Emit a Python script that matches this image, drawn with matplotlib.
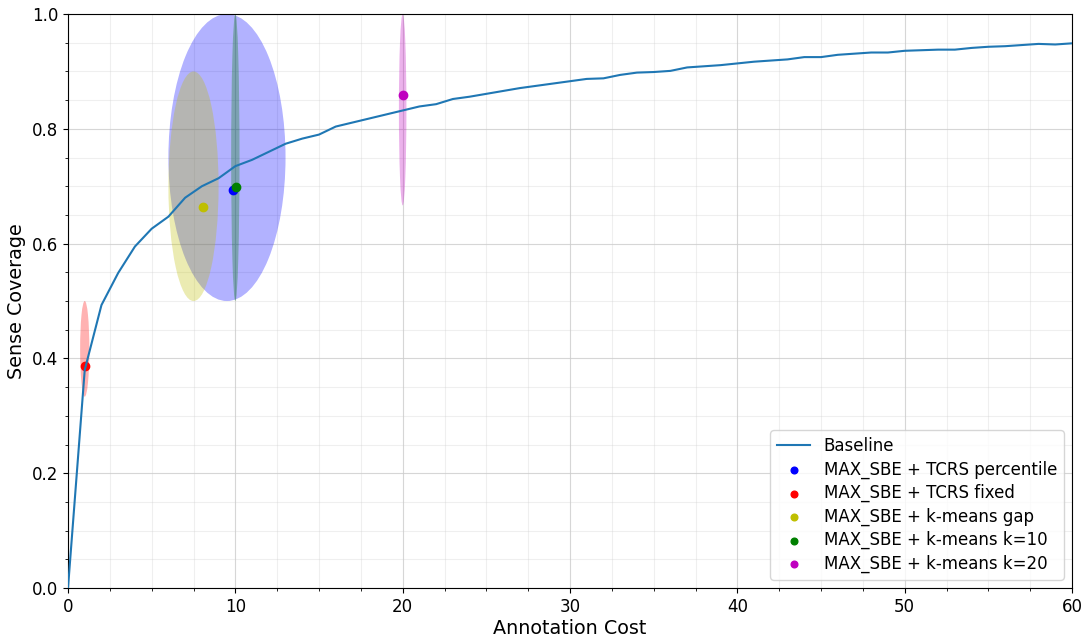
import matplotlib
matplotlib.use("Agg")
import matplotlib.pyplot as plt
from matplotlib.patches import Ellipse
from matplotlib.ticker import MultipleLocator

# Baseline curve
baseline_x = list(range(0, 61))
baseline_y = [0.0, 0.38, 0.493, 0.549, 0.595, 0.626, 0.647, 0.68, 0.70, 0.714,
              0.735, 0.746, 0.760, 0.774, 0.783, 0.790, 0.804, 0.811, 0.818, 0.825,
              0.832, 0.839, 0.843, 0.852, 0.856, 0.861, 0.866, 0.871, 0.875, 0.879,
              0.883, 0.887, 0.888, 0.894, 0.898, 0.899, 0.901, 0.907, 0.909, 0.911,
              0.914, 0.917, 0.919, 0.921, 0.925, 0.925, 0.929, 0.931, 0.933, 0.933,
              0.936, 0.937, 0.938, 0.938, 0.941, 0.943, 0.944, 0.946, 0.948, 0.947,
              0.949]

# Methods
labels = ["MAX_SBE + TCRS percentile", "MAX_SBE + TCRS fixed",
          "MAX_SBE + k-means gap", "MAX_SBE + k-means k=10",
          "MAX_SBE + k-means k=20"]
colors = ["b", "r", "y", "g", "m"]
point_x = [9.85, 1.0, 8.05, 10.02, 20.0]
point_y = [0.693, 0.387, 0.663, 0.698, 0.859]
# Ellipse (spread) centres and extents
ell_cx = [9.5, 1.0, 7.5, 10.0, 20.0]
ell_cy = [0.75, 0.4167, 0.70, 0.75, 0.8333]
ell_w = [7.0, 0.55, 3.0, 0.5, 0.45]
ell_h = [0.5, 0.1667, 0.4, 0.5, 0.3333]

fig = plt.figure(figsize=(10.88, 6.39), dpi=100)
ax = fig.add_axes([0.0625, 0.0798, 0.9228, 0.8982])

ax.plot(baseline_x, baseline_y, color="C0", lw=1.5, label="Baseline", zorder=3)

for cx, cy, w, h, c in zip(ell_cx, ell_cy, ell_w, ell_h, colors):
    ax.add_patch(Ellipse((cx, cy), w, h, facecolor=c, alpha=0.3, edgecolor="none", zorder=2))

for x, y, c, lab in zip(point_x, point_y, colors, labels):
    ax.scatter([x], [y], color=c, s=36, label=lab, zorder=2.5)

ax.set_xlim(0, 60)
ax.set_ylim(0, 1)
ax.xaxis.set_major_locator(MultipleLocator(10))
ax.xaxis.set_minor_locator(MultipleLocator(2.5))
ax.yaxis.set_major_locator(MultipleLocator(0.2))
ax.yaxis.set_minor_locator(MultipleLocator(0.05))
ax.grid(which="major", color="#cccccc", alpha=0.8, lw=0.8)
ax.grid(which="minor", color="#cccccc", alpha=0.3, lw=0.8)
ax.set_axisbelow(True)
ax.tick_params(labelsize=12)
ax.set_xlabel("Annotation Cost", fontsize=13.8, labelpad=2)
ax.set_ylabel("Sense Coverage", fontsize=13.8)
ax.legend(loc="lower right", fontsize=12, labelspacing=0.32, markerscale=0.8)

fig.savefig("out.png", dpi=100)
